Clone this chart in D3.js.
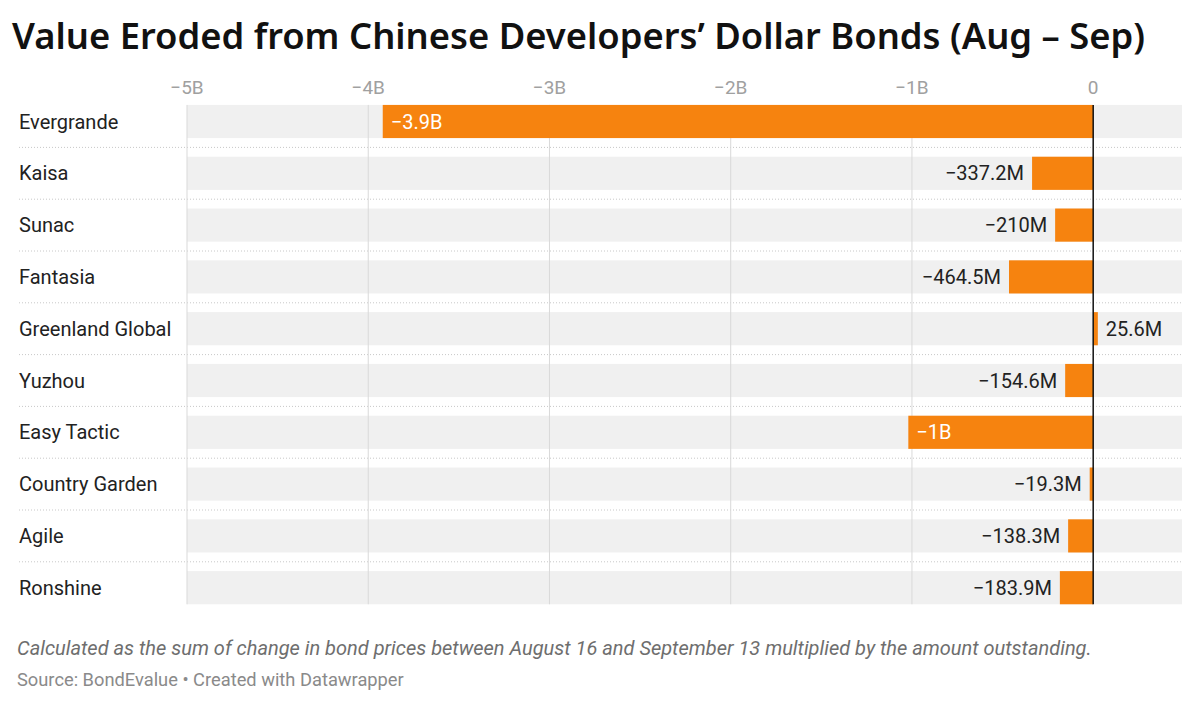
<!DOCTYPE html>
<html>
<head>
<meta charset="utf-8">
<script src="https://cdn.jsdelivr.net/npm/d3@7"></script>
<style>
  body { margin: 0; background: #fff; }
  svg { display: block; }
</style>
</head>
<body>
<svg width="1200" height="707"></svg>
<script>
// data, value eroded in millions of USD
var developers = ['Evergrande', 'Kaisa', 'Sunac', 'Fantasia', 'Greenland Global',
  'Yuzhou', 'Easy Tactic', 'Country Garden', 'Agile', 'Ronshine']
var values = [-3920, -337.2, -210, -464.5, 25.6, -154.6, -1020, -19.3, -138.3, -183.9]
var tickValues = [-5000, -4000, -3000, -2000, -1000, 0]
var tickLabels = ['−5B', '−4B', '−3B', '−2B', '−1B', '0']

var rows = developers.map((d, i) => ({ name: d, value: values[i] }))

var svg = d3.select('svg')

var x = d3.scaleLinear().domain([-5000, 490]).range([187, 1182])
var y = d3.scaleBand().domain(developers).range([95.6, 613.6])
  .paddingInner(0.36).paddingOuter(0.18)

var orange = '#f6830f'
var plotTop = y(developers[0])
var plotBottom = y(developers[developers.length - 1]) + y.bandwidth()

// title, a bit condensed to span the chart
svg.append('text')
  .attr('x', 12).attr('y', 49)
  .attr('textLength', 1133)
  .attr('lengthAdjust', 'spacingAndGlyphs')
  .style('font-family', '"Noto Sans", sans-serif')
  .style('font-weight', 600)
  .style('font-size', '36.5px')
  .style('fill', '#111')
  .text('Value Eroded from Chinese Developers’ Dollar Bonds (Aug – Sep)')

// row backgrounds
svg.selectAll('rect.bg')
  .data(rows)
  .enter()
  .append('rect')
  .attr('class', 'bg')
  .attr('x', x(-5000))
  .attr('width', x(490) - x(-5000))
  .attr('y', (d) => y(d.name))
  .attr('height', y.bandwidth())
  .style('fill', '#f0f0f0')

// dotted separators between rows
svg.selectAll('line.sep')
  .data(rows.slice(1))
  .enter()
  .append('line')
  .attr('x1', 19).attr('x2', 1182)
  .attr('y1', (d) => y(d.name) - (y.step() - y.bandwidth()) / 2)
  .attr('y2', (d) => y(d.name) - (y.step() - y.bandwidth()) / 2)
  .style('stroke', '#c8c8c8')
  .style('stroke-width', 1)
  .style('stroke-dasharray', '1,2')

// gridlines
svg.selectAll('line.grid')
  .data(tickValues.filter((d) => d !== 0))
  .enter()
  .append('line')
  .attr('x1', (d) => x(d)).attr('x2', (d) => x(d))
  .attr('y1', plotTop).attr('y2', plotBottom)
  .style('stroke', '#d9d9d9')
  .style('stroke-width', 1)

// tick labels
svg.selectAll('text.tick')
  .data(tickValues)
  .enter()
  .append('text')
  .attr('x', (d) => x(d))
  .attr('y', 94)
  .attr('text-anchor', 'middle')
  .style('font-family', 'Roboto, sans-serif')
  .style('font-size', '19px')
  .style('fill', '#a0a0a0')
  .text((d, i) => tickLabels[i])

// bars
svg.selectAll('rect.bar')
  .data(rows)
  .enter()
  .append('rect')
  .attr('x', (d) => x(Math.min(0, d.value)))
  .attr('width', (d) => Math.abs(x(d.value) - x(0)))
  .attr('y', (d) => y(d.name))
  .attr('height', y.bandwidth())
  .style('fill', orange)

// zero line
svg.append('line')
  .attr('x1', x(0)).attr('x2', x(0))
  .attr('y1', plotTop).attr('y2', plotBottom)
  .style('stroke', '#111')
  .style('stroke-width', 1.5)

// category labels
svg.selectAll('text.name')
  .data(rows)
  .enter()
  .append('text')
  .attr('x', 19)
  .attr('y', (d) => y(d.name) + y.bandwidth() / 2 + 7)
  .style('font-family', 'Roboto, sans-serif')
  .style('font-size', '20px')
  .style('fill', '#222')
  .text((d) => d.name)

function fmt (v) {
  var a = Math.abs(v)
  var s = a >= 1000 ? (+(a / 1000).toFixed(1)) + 'B' : (+a.toFixed(1)) + 'M'
  return (v < 0 ? '−' : '') + s
}

// value labels, inside for long bars
svg.selectAll('text.val')
  .data(rows)
  .enter()
  .append('text')
  .each(function (d) {
    var inside = Math.abs(x(d.value) - x(0)) > 120
    var t = d3.select(this)
    if (d.value >= 0) {
      t.attr('x', x(d.value) + 8).attr('text-anchor', 'start').style('fill', '#222')
    } else if (inside) {
      t.attr('x', x(d.value) + 8).attr('text-anchor', 'start').style('fill', '#fff')
    } else {
      t.attr('x', x(d.value) - 8).attr('text-anchor', 'end').style('fill', '#222')
    }
  })
  .attr('y', (d) => y(d.name) + y.bandwidth() / 2 + 7)
  .style('font-family', 'Roboto, sans-serif')
  .style('font-size', '20px')
  .text((d) => fmt(d.value))

// footer
svg.append('text')
  .attr('x', 17).attr('y', 655)
  .style('font-family', 'Roboto, sans-serif')
  .style('font-style', 'italic')
  .style('font-size', '20px')
  .style('fill', '#6e6e6e')
  .text('Calculated as the sum of change in bond prices between August 16 and September 13 multiplied by the amount outstanding.')

svg.append('text')
  .attr('x', 17).attr('y', 686)
  .style('font-family', 'Roboto, sans-serif')
  .style('font-size', '18.3px')
  .style('fill', '#8a8a8a')
  .text('Source: BondEvalue • Created with Datawrapper')
</script>
</body>
</html>
